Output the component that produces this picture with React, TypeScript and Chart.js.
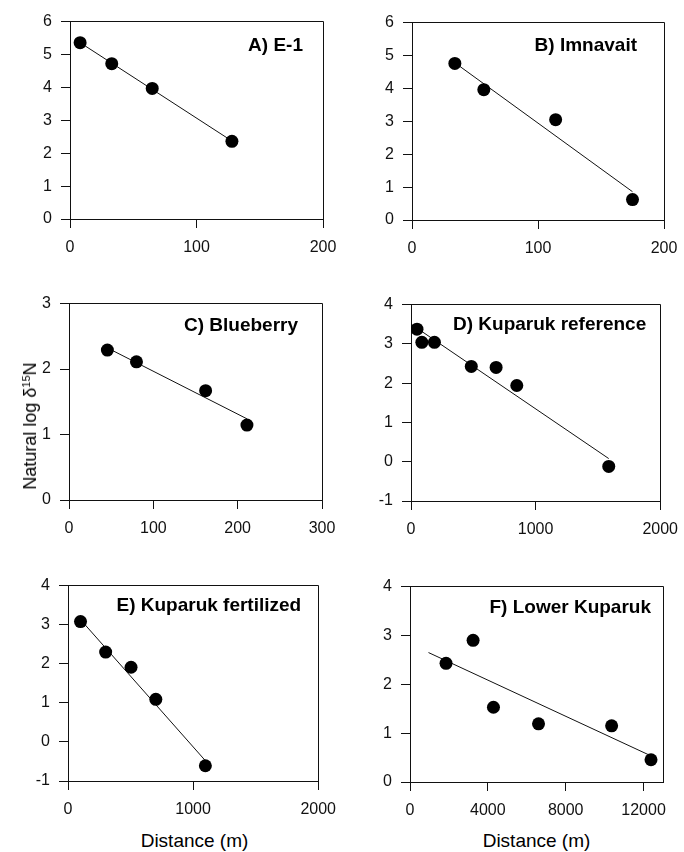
import React, { useEffect, useRef } from "react";
import { Chart, registerables } from "chart.js";

Chart.register(...registerables);

// ---------- Data ----------
// A) E-1
const distanceA = [8, 33, 65, 128];
const logD15NA = [5.36, 4.72, 3.97, 2.36];
const fitA = [[8, 5.36], [128, 2.37]];
const xTicksA = [0, 100, 200];
const yTicksA = [0, 1, 2, 3, 4, 5, 6];

// B) Imnavait
const distanceB = [34, 57, 114, 175];
const logD15NB = [4.76, 3.96, 3.05, 0.62];
const fitB = [[34, 4.78], [175, 0.86]];
const xTicksB = [0, 100, 200];
const yTicksB = [0, 1, 2, 3, 4, 5, 6];

// C) Blueberry
const distanceC = [45.5, 80, 162, 211];
const logD15NC = [2.29, 2.11, 1.67, 1.145];
const fitC = [[46, 2.32], [211, 1.24]];
const xTicksC = [0, 100, 200, 300];
const yTicksC = [0, 1, 2, 3];

// D) Kuparuk reference
const distanceD = [48, 87, 188, 484, 683, 849, 1587];
const logD15ND = [3.375, 3.04, 3.04, 2.425, 2.4, 1.94, -0.12];
const fitD = [[48, 3.4], [1587, 0.08]];
const xTicksD = [0, 1000, 2000];
const yTicksD = [-1, 0, 1, 2, 3, 4];

// E) Kuparuk fertilized
const distanceE = [100, 301, 504, 702, 1098];
const logD15NE = [3.08, 2.3, 1.91, 1.09, -0.61];
const fitE = [[100, 3.13], [1098, -0.48]];
const xTicksE = [0, 1000, 2000];
const yTicksE = [-1, 0, 1, 2, 3, 4];

// F) Lower Kuparuk
const distanceF = [1852, 3242, 4288, 6604, 10360, 12384];
const logD15NF = [2.43, 2.9, 1.53, 1.19, 1.15, 0.456];
const fitF = [[950, 2.65], [12300, 0.55]];
const xTicksF = [0, 4000, 8000, 12000];
const yTicksF = [0, 1, 2, 3, 4];

const yAxisTitle = "Natural log δ";
const xAxisTitle = "Distance (m)";

// ---------- Layout / style ----------
const FONT = '"Liberation Sans", Arial, Helvetica, sans-serif';
const INK = "#111";
const AX_W = 60;
const AX_H = 45;
const PAD_T = 15;
const PAD_R = 25;

type PanelCfg = {
  title: string;
  plot: [number, number, number, number];
  x: number[];
  y: number[];
  fit: number[][];
  xMin: number;
  xMax: number;
  yMin: number;
  yMax: number;
  xTicks: number[];
  yTicks: number[];
  titleRight: number;
  titleBase: number;
};

const panels: PanelCfg[] = [
  { title: "A) E-1", plot: [70, 18, 323, 219], x: distanceA, y: logD15NA, fit: fitA, xMin: 0, xMax: 200, yMin: 0, yMax: 6, xTicks: xTicksA, yTicks: yTicksA, titleRight: 20, titleBase: 29 },
  { title: "B) Imnavait", plot: [412, 19, 664, 220], x: distanceB, y: logD15NB, fit: fitB, xMin: 0, xMax: 200, yMin: 0, yMax: 6, xTicks: xTicksB, yTicks: yTicksB, titleRight: 27, titleBase: 28 },
  { title: "C) Blueberry", plot: [69, 300, 322, 500], x: distanceC, y: logD15NC, fit: fitC, xMin: 0, xMax: 300, yMin: 0, yMax: 3, xTicks: xTicksC, yTicks: yTicksC, titleRight: 24, titleBase: 27 },
  { title: "D) Kuparuk reference", plot: [411, 301, 663, 501], x: distanceD, y: logD15ND, fit: fitD, xMin: 0, xMax: 2000, yMin: -1, yMax: 4, xTicks: xTicksD, yTicks: yTicksD, titleRight: 14, titleBase: 25 },
  { title: "E) Kuparuk fertilized", plot: [68, 582, 321, 781], x: distanceE, y: logD15NE, fit: fitE, xMin: 0, xMax: 2000, yMin: -1, yMax: 4, xTicks: xTicksE, yTicks: yTicksE, titleRight: 17, titleBase: 25 },
  { title: "F) Lower Kuparuk", plot: [410, 583, 663, 782], x: distanceF, y: logD15NF, fit: fitF, xMin: 0, xMax: 13000, yMin: 0, yMax: 4, xTicks: xTicksF, yTicks: yTicksF, titleRight: 12, titleBase: 26 },
];

const align = (p: number) => Math.round(p - 0.5) + 0.5;

const framePlugin = {
  id: "frame",
  afterDraw(chart: any, _args: any, opts: any) {
    const { ctx, chartArea } = chart;
    const L = align(chartArea.left);
    const T = align(chartArea.top);
    const R = align(chartArea.right);
    const B = align(chartArea.bottom);
    ctx.save();
    ctx.strokeStyle = INK;
    ctx.lineWidth = 1;
    ctx.beginPath();
    ctx.moveTo(L, T);
    ctx.lineTo(R, T);
    ctx.lineTo(R, B);
    ctx.stroke();
    ctx.fillStyle = "#000";
    ctx.font = `bold 19px ${FONT}`;
    ctx.textAlign = "right";
    ctx.textBaseline = "alphabetic";
    ctx.fillText(opts.title, chartArea.right - opts.right, chartArea.top + opts.base);
    ctx.restore();
  },
};

function Panel({ cfg }: { cfg: PanelCfg }) {
  const ref = useRef<HTMLCanvasElement>(null);
  const [l, t, r, b] = cfg.plot;
  const w = r - l + AX_W + PAD_R;
  const h = b - t + AX_H + PAD_T;

  useEffect(() => {
    if (!ref.current) return;
    const chart = new Chart(ref.current, {
      type: "scatter",
      data: {
        datasets: [
          {
            data: cfg.x.map((x, i) => ({ x, y: cfg.y[i] })),
            pointRadius: 6.5,
            pointBackgroundColor: "#000",
            pointBorderColor: "#000",
            pointBorderWidth: 0,
            showLine: false,
          },
          {
            data: cfg.fit.map(([x, y]) => ({ x, y })),
            showLine: true,
            pointRadius: 0,
            borderColor: INK,
            borderWidth: 1,
            fill: false,
          } as any,
        ],
      },
      options: {
        animation: false,
        responsive: false,
        devicePixelRatio: 1,
        events: [],
        layout: { padding: { top: PAD_T, right: PAD_R, left: 0, bottom: 0 } },
        plugins: {
          legend: { display: false },
          tooltip: { enabled: false },
          frame: { title: cfg.title, right: cfg.titleRight, base: cfg.titleBase },
        } as any,
        scales: {
          x: {
            type: "linear",
            min: cfg.xMin,
            max: cfg.xMax,
            afterBuildTicks: (s: any) => {
              s.ticks = cfg.xTicks.map((v) => ({ value: v }));
            },
            afterFit: (s: any) => {
              s.height = AX_H;
            },
            grid: { drawOnChartArea: false, drawTicks: true, tickLength: 9, color: INK, lineWidth: 1 },
            border: { display: true, color: INK, width: 1 },
            ticks: {
              font: { size: 16, family: FONT },
              color: INK,
              padding: 10,
              maxRotation: 0,
              autoSkip: false,
              callback: (v: any) => String(v),
            },
          },
          y: {
            type: "linear",
            min: cfg.yMin,
            max: cfg.yMax,
            afterBuildTicks: (s: any) => {
              s.ticks = cfg.yTicks.map((v) => ({ value: v }));
            },
            afterFit: (s: any) => {
              s.width = AX_W;
            },
            grid: { drawOnChartArea: false, drawTicks: true, tickLength: 9, color: INK, lineWidth: 1 },
            border: { display: true, color: INK, width: 1 },
            ticks: {
              font: { size: 16, family: FONT },
              color: INK,
              padding: 9,
              autoSkip: false,
              callback: (v: any) => String(v),
            },
          },
        },
      } as any,
      plugins: [framePlugin as any],
    });
    return () => chart.destroy();
  }, []);

  return (
    <canvas
      ref={ref}
      width={w}
      height={h}
      style={{ position: "absolute", left: l - AX_W, top: t - PAD_T, width: w, height: h }}
    />
  );
}

export default function App() {
  const e = panels[4].plot;
  const f = panels[5].plot;
  return (
    <div style={{ position: "absolute", left: 0, top: 0, width: 684, height: 852, background: "#fff", fontFamily: FONT, color: "#000" }}>
      {panels.map((p) => (
        <Panel key={p.title} cfg={p} />
      ))}
      <div
        style={{
          position: "absolute",
          left: 30,
          top: 426,
          transform: "translate(-50%, -50%) rotate(-90deg)",
          whiteSpace: "nowrap",
          fontSize: 18,
          lineHeight: 1,
        }}
      >
        {yAxisTitle}
        <sup style={{ fontSize: 11, verticalAlign: "6px", lineHeight: 0 }}>15</sup>N
      </div>
      <div
        style={{ position: "absolute", left: (e[0] + e[2]) / 2, top: 840, transform: "translate(-50%, -50%)", whiteSpace: "nowrap", fontSize: 19, lineHeight: 1 }}
      >
        {xAxisTitle}
      </div>
      <div
        style={{ position: "absolute", left: (f[0] + f[2]) / 2, top: 840, transform: "translate(-50%, -50%)", whiteSpace: "nowrap", fontSize: 19, lineHeight: 1 }}
      >
        {xAxisTitle}
      </div>
    </div>
  );
}
